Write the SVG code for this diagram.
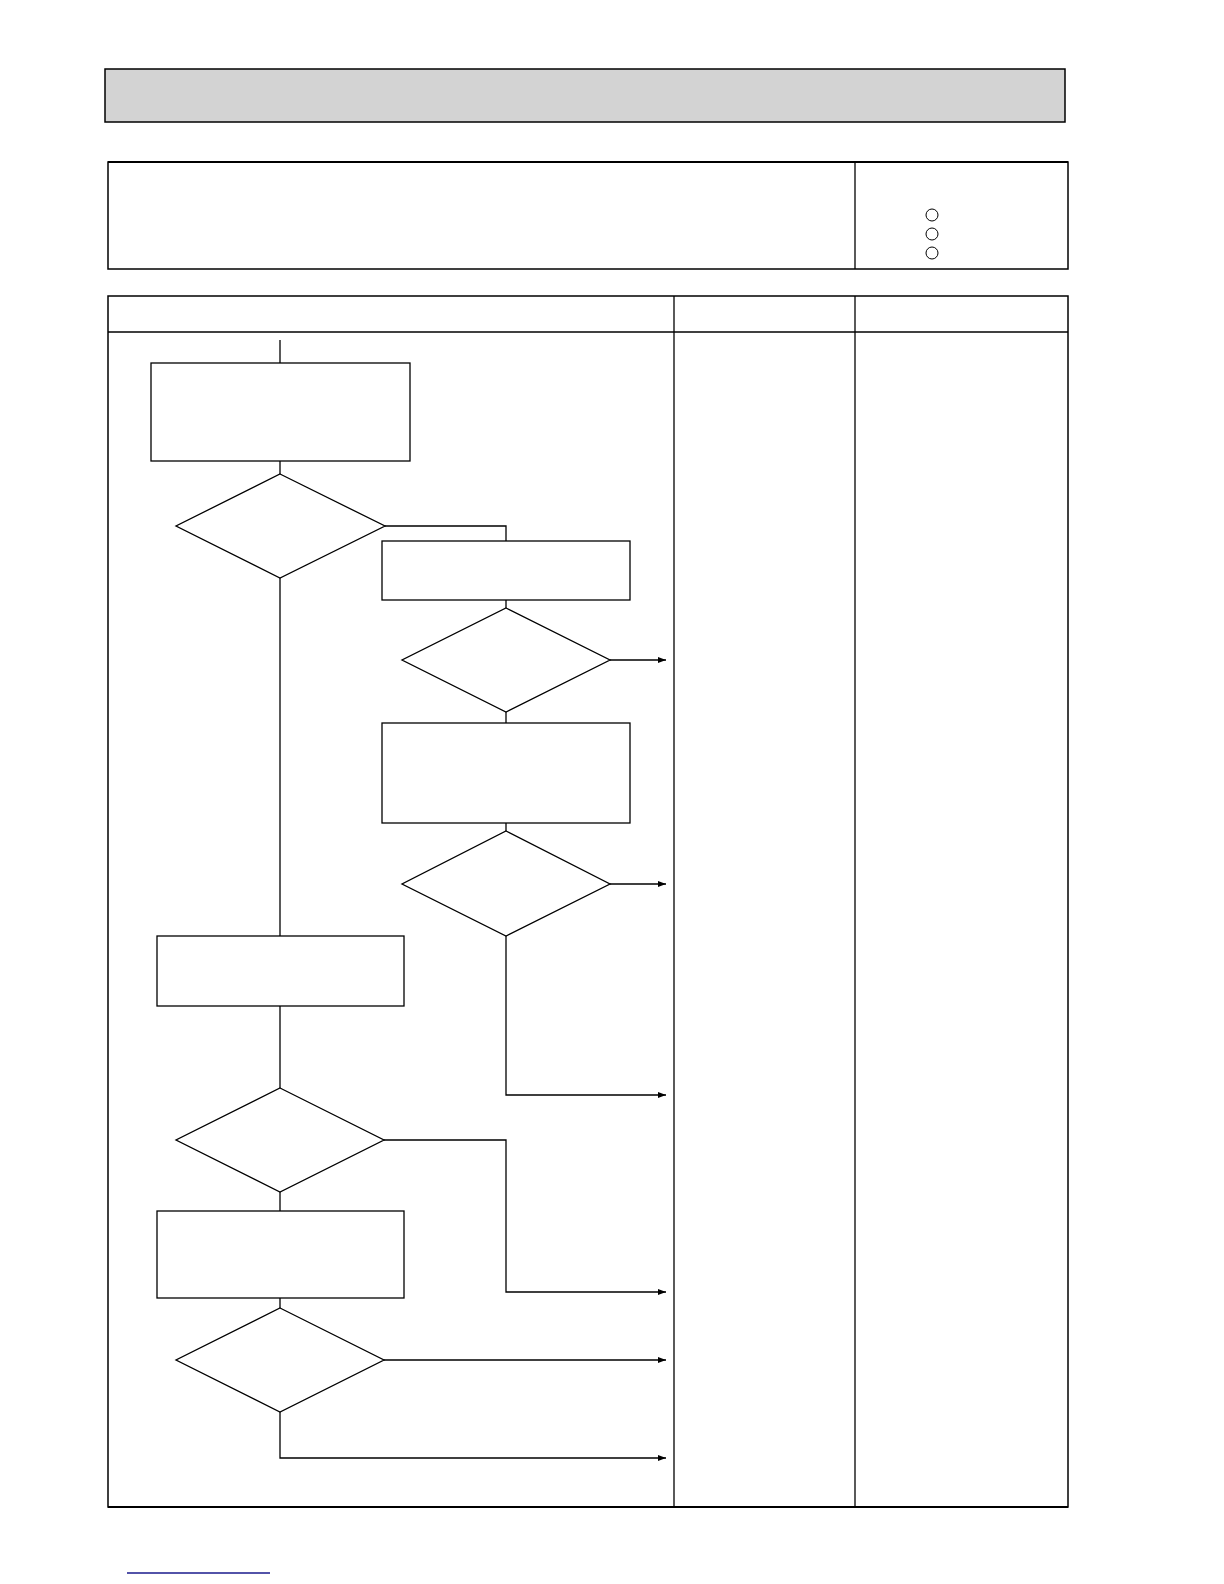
<svg xmlns="http://www.w3.org/2000/svg" width="1224" height="1584" viewBox="0 0 1224 1584">
<style>
.frame{fill:none;stroke:#000;stroke-width:1.5}
.node{fill:#fff;stroke:#000;stroke-width:1.3}
.conn{fill:none;stroke:#000;stroke-width:1.3}
.arr{fill:none;stroke:#000;stroke-width:1.3;marker-end:url(#ah)}
</style>
<defs>
<marker id="ah" viewBox="0 0 8 6" refX="8" refY="3" markerWidth="8" markerHeight="6" markerUnits="userSpaceOnUse" orient="auto">
<path d="M0,0 L8,3 L0,6 z" fill="#000"/>
</marker>
</defs>
<rect width="1224" height="1584" fill="#fff"/>
<g id="header">
<rect x="105" y="69" width="960" height="53" fill="#d3d3d3" stroke="#000" stroke-width="1.5"/>
</g>
<g id="info-box">
<rect x="108" y="162" width="960" height="107" class="frame"/>
<line x1="108" y1="162" x2="1068" y2="162" stroke="#000" stroke-width="2"/>
<line x1="855" y1="162" x2="855" y2="269" stroke="#000" stroke-width="1.3"/>
<circle cx="932" cy="215" r="6" fill="none" stroke="#000" stroke-width="1"/>
<circle cx="932" cy="234" r="6" fill="none" stroke="#000" stroke-width="1"/>
<circle cx="932" cy="253" r="6" fill="none" stroke="#000" stroke-width="1"/>
</g>
<g id="table">
<rect x="108" y="296" width="960" height="1211" class="frame"/>
<line x1="108" y1="332" x2="1068" y2="332" stroke="#000" stroke-width="1.3"/>
<line x1="674" y1="296" x2="674" y2="1507" stroke="#000" stroke-width="1.3"/>
<line x1="855" y1="296" x2="855" y2="1507" stroke="#000" stroke-width="1.3"/>
<line x1="108" y1="1507" x2="1068" y2="1507" stroke="#000" stroke-width="2.2"/>
</g>
<g id="connectors">
<line x1="280" y1="340" x2="280" y2="363" class="conn"/>
<line x1="280" y1="461" x2="280" y2="474" class="conn"/>
<polyline points="385,526 506,526 506,541" class="conn"/>
<line x1="506" y1="600" x2="506" y2="608" class="conn"/>
<line x1="610" y1="660" x2="666" y2="660" class="arr"/>
<line x1="506" y1="712" x2="506" y2="723" class="conn"/>
<line x1="506" y1="823" x2="506" y2="831" class="conn"/>
<line x1="610" y1="884" x2="666" y2="884" class="arr"/>
<polyline points="506,936 506,1095 666,1095" class="arr"/>
<line x1="280" y1="578" x2="280" y2="936" class="conn"/>
<line x1="280" y1="1006" x2="280" y2="1088" class="conn"/>
<polyline points="384,1140 506,1140 506,1292 666,1292" class="arr"/>
<line x1="280" y1="1192" x2="280" y2="1211" class="conn"/>
<line x1="280" y1="1298" x2="280" y2="1308" class="conn"/>
<line x1="384" y1="1360" x2="666" y2="1360" class="arr"/>
<polyline points="280,1412 280,1458 666,1458" class="arr"/>
</g>
<g id="box1"><rect x="151" y="363" width="259" height="98" class="node"/></g>
<g id="dec1"><polygon points="280,474 385,526 280,578 176,526" class="node"/></g>
<g id="box2"><rect x="382" y="541" width="248" height="59" class="node"/></g>
<g id="dec2"><polygon points="506,608 610,660 506,712 402,660" class="node"/></g>
<g id="box3"><rect x="382" y="723" width="248" height="100" class="node"/></g>
<g id="dec3"><polygon points="506,831 610,884 506,936 402,884" class="node"/></g>
<g id="box4"><rect x="157" y="936" width="247" height="70" class="node"/></g>
<g id="dec4"><polygon points="280,1088 384,1140 280,1192 176,1140" class="node"/></g>
<g id="box5"><rect x="157" y="1211" width="247" height="87" class="node"/></g>
<g id="dec5"><polygon points="280,1308 384,1360 280,1412 176,1360" class="node"/></g>
<g id="link-underline">
<line x1="127" y1="1573" x2="270" y2="1573" stroke="#1a1a8c" stroke-width="1.5"/>
</g>
</svg>
